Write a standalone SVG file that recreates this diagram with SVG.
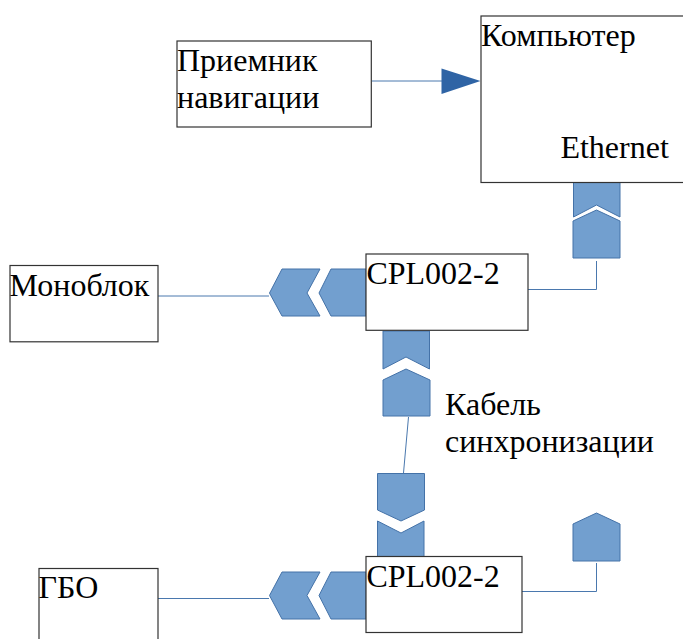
<svg xmlns="http://www.w3.org/2000/svg" width="683" height="639" viewBox="0 0 683 639">
<style>
.box{fill:#fff;stroke:#333;stroke-width:1.2}
.chev{fill:#729fcf;stroke:#4472a8;stroke-width:1}
.line{fill:none;stroke:#4a78ae;stroke-width:1}
text{font-family:"Liberation Serif","Times New Roman",serif;font-size:32px;fill:#000}
</style>
<rect width="683" height="639" fill="#fff"/>
<g id="connectors">
<path class="line" d="M372 81H442"/>
<polygon points="441.500,68.500 480.500,81 441.500,94" fill="#2f64a5"/>
<path class="line" d="M596.500 261V289.500H528"/>
<path class="line" d="M158 296H269"/>
<path class="line" d="M408.500 417L403.500 473"/>
<path class="line" d="M158 598.500H269"/>
<path class="line" d="M596.500 563V591.500H522"/>
</g>
<g id="computer-port">
<polygon class="chev" points="573.500,182 620,182 620,217 596.500,205 573.500,217"/>
<polygon class="chev" points="573,221 596.500,210 620,221 620,258 573,258"/>
</g>
<g id="monoblock-port">
<polygon class="chev" points="269.500,293 282,269 320,269 307,293 320,316 282,316"/>
<polygon class="chev" points="319,293 331,269 366,269 366,316 331,316"/>
</g>
<g id="cable-port-top">
<polygon class="chev" points="383,331 429.500,331 429.500,369 406,357 383,369"/>
<polygon class="chev" points="383,380 406,369 430,380 430,416 383,416"/>
</g>
<g id="cable-port-bottom">
<polygon class="chev" points="377.500,473.500 424.500,473.500 424.500,510 401,521 377.500,510"/>
<polygon class="chev" points="377.500,521 401,533 424,521 424,557 377.500,557"/>
</g>
<g id="gbo-port">
<polygon class="chev" points="269.500,595.500 282,572 320,572 307,595.500 320,619 282,619"/>
<polygon class="chev" points="319,595.500 331,572 366,572 366,619 331,619"/>
</g>
<g id="free-port">
<polygon class="chev" points="573,524 596.500,513 620,524 620,561 573,561"/>
</g>
<g id="receiver">
<rect class="box" x="177" y="41" width="194.300" height="86"/>
<text x="177" y="71">Приемник</text>
<text x="177" y="108">навигации</text>
</g>
<g id="computer">
<rect class="box" x="481" y="16" width="210" height="166.500"/>
<text x="481" y="46">Компьютер</text>
<text x="560.400" y="158">Ethernet</text>
</g>
<g id="cpl-top">
<rect class="box" x="366" y="254" width="162" height="76.300"/>
<text x="366.400" y="284">CPL002-2</text>
</g>
<g id="monoblock">
<rect class="box" x="10" y="265.500" width="148" height="76.300"/>
<text x="9.600" y="296">Моноблок</text>
</g>
<g id="cpl-bottom">
<rect class="box" x="366" y="556.500" width="156" height="76"/>
<text x="366.400" y="587">CPL002-2</text>
</g>
<g id="gbo">
<rect class="box" x="39" y="568.500" width="119" height="80"/>
<text x="38.600" y="598">ГБО</text>
</g>
<g id="cable-label">
<text x="445" y="415">Кабель</text>
<text x="445" y="452">синхронизации</text>
</g>
</svg>
